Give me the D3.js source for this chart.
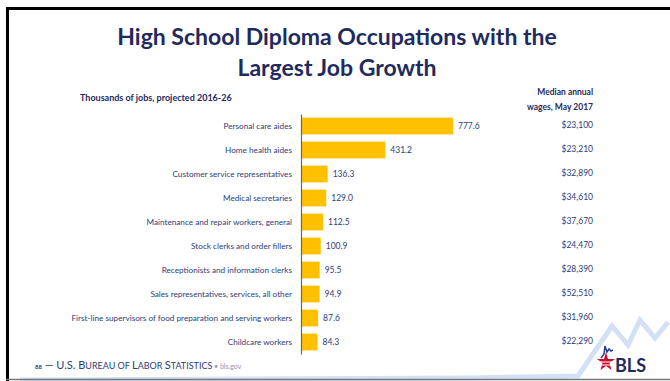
<!DOCTYPE html>
<html lang="en">
<head>
<meta charset="UTF-8">
<title>High School Diploma Occupations with the Largest Job Growth</title>
<style>
  body { margin: 0; background: #fff; }
  svg text { font-family: Lato, "Open Sans", sans-serif; }
</style>
</head>
<body>
<div id="chart"></div>
<script src="https://d3js.org/d3.v7.min.js"></script>
<script>
// Chart data
var occupations = [
    "Personal care aides",
    "Home health aides",
    "Customer service representatives",
    "Medical secretaries",
    "Maintenance and repair workers, general",
    "Stock clerks and order fillers",
    "Receptionists and information clerks",
    "Sales representatives, services, all other",
    "First-line supervisors of food preparation and serving workers",
    "Childcare workers"
];
var jobs = [777.6, 431.2, 136.3, 129.0, 112.5, 100.9, 95.5, 94.9, 87.6, 84.3];
var wages = ["$23,100", "$23,210", "$32,890", "$34,610", "$37,670",
             "$24,470", "$28,390", "$52,510", "$31,960", "$22,290"];

var W = 670, H = 381;
var navy = "#1f2a5e", textBlue = "#2e3c78", gold = "#ffc000";

var svg = d3.select("#chart").append("svg")
    .attr("width", W)
    .attr("height", H);

svg.append("rect").attr("x", 0).attr("y", 0).attr("width", W).attr("height", H).attr("fill", "#fff");

// light blue swoosh at the bottom
svg.append("path")
    .attr("d", "M20,380 L470,378 L578,376 L612,326 L628,345 L640,320 L655,338 L668,322")
    .attr("fill", "none")
    .attr("stroke", "#d3e0f5")
    .attr("stroke-width", 5);

// slide frame
svg.append("line").attr("x1", 7.5).attr("x2", 7.5).attr("y1", 7).attr("y2", H)
    .attr("stroke", "#000").attr("stroke-width", 3);
svg.append("line").attr("x1", 6).attr("x2", W).attr("y1", 8.5).attr("y2", 8.5)
    .attr("stroke", "#000").attr("stroke-width", 3);
svg.append("line").attr("x1", 6).attr("x2", W).attr("y1", 379.5).attr("y2", 379.5)
    .attr("stroke", "#777").attr("stroke-width", 1.5);

// Title
var title = svg.append("text")
    .attr("text-anchor", "middle")
    .attr("fill", navy).attr("font-weight", "bold").attr("font-size", 23);
title.append("tspan").attr("x", 337).attr("y", 45).text("High School Diploma Occupations with the");
title.append("tspan").attr("x", 337).attr("y", 76).text("Largest Job Growth");

svg.append("text")
    .attr("x", 80).attr("y", 101)
    .attr("fill", navy).attr("font-weight", "bold").attr("font-size", 9)
    .text("Thousands of jobs, projected 2016-26");

svg.append("text")
    .attr("x", 593).attr("y", 95).attr("text-anchor", "end")
    .attr("fill", navy).attr("font-weight", "bold").attr("font-size", 8.5)
    .text("Median annual");
svg.append("text")
    .attr("x", 593).attr("y", 110).attr("text-anchor", "end")
    .attr("fill", navy).attr("font-weight", "bold").attr("font-size", 8.5)
    .text("wages, May 2017");

// Scales
var x = d3.scaleLinear().domain([0, 777.6]).range([301, 453]);
var y = d3.scaleBand().domain(occupations).range([114, 354]).paddingInner(0.3).paddingOuter(0.15);

// Bars
svg.append("g").selectAll("rect")
    .data(occupations)
    .enter()
    .append("rect")
    .attr("x", x(0))
    .attr("y", d => y(d))
    .attr("width", (d, i) => x(jobs[i]) - x(0))
    .attr("height", y.bandwidth())
    .attr("fill", gold);

// Axis line with category labels
svg.append("g")
    .attr("transform", "translate(" + x(0) + ",0)")
    .call(d3.axisLeft(y).tickSize(0).tickPadding(9))
    .call(g => g.select(".domain").attr("stroke", "#666").attr("stroke-width", 1.2))
    .call(g => g.selectAll("text").attr("fill", textBlue).attr("font-size", 8.2)
        .attr("font-family", "Lato, 'Open Sans', sans-serif"));

// Value labels
svg.append("g").selectAll("text")
    .data(occupations)
    .enter()
    .append("text")
    .attr("x", (d, i) => x(jobs[i]) + 5)
    .attr("y", d => y(d) + y.bandwidth() / 2)
    .attr("dy", "0.35em")
    .attr("fill", textBlue).attr("font-size", 8.5)
    .text((d, i) => d3.format(".1f")(jobs[i]));

// Wage labels
svg.append("g").selectAll("text")
    .data(occupations)
    .enter()
    .append("text")
    .attr("x", 593)
    .attr("y", d => y(d) + y.bandwidth() / 2 - 1)
    .attr("dy", "0.35em")
    .attr("text-anchor", "end")
    .attr("fill", textBlue).attr("font-size", 8.5)
    .text((d, i) => wages[i]);

// Footer
var foot = svg.append("text")
    .attr("x", 35).attr("y", 369)
    .attr("fill", textBlue).attr("font-size", 11);
foot.append("tspan").attr("font-size", 6).attr("font-weight", "bold").text("88");
foot.append("tspan").text(" \u2014 U.S. B");
foot.append("tspan").attr("font-size", 9).text("UREAU OF ");
foot.append("tspan").text("L");
foot.append("tspan").attr("font-size", 9).text("ABOR ");
foot.append("tspan").text("S");
foot.append("tspan").attr("font-size", 9).text("TATISTICS");
foot.append("tspan").attr("font-size", 7).attr("fill", "#8a93b8").text("  \u2022  bls.gov");

// BLS logo
var logo = svg.append("g").attr("transform", "translate(598,352)");
logo.append("path")
    .attr("d", "M8,0 L10,7 L17,7 L11.5,11 L13.5,18 L8,14 L2.5,18 L4.5,11 L-1,7 L6,7 Z")
    .attr("fill", "#c8102e");
logo.append("line").attr("x1", 0).attr("x2", 16).attr("y1", 10).attr("y2", 10).attr("stroke", "#fff").attr("stroke-width", 1);
logo.append("line").attr("x1", 0).attr("x2", 16).attr("y1", 13).attr("y2", 13).attr("stroke", "#fff").attr("stroke-width", 1);
logo.append("path")
    .attr("d", "M3,6 L6,2 L7,-6 L9,0 L11,-3 L13,-1 L15,-2")
    .attr("fill", "none").attr("stroke", "#1f3d8c").attr("stroke-width", 1.5);
logo.append("text")
    .attr("x", 17).attr("y", 20)
    .attr("fill", navy).attr("font-weight", "bold").attr("font-size", 18)
    .attr("font-family", "'Open Sans', sans-serif")
    .text("BLS");
</script>
</body>
</html>
